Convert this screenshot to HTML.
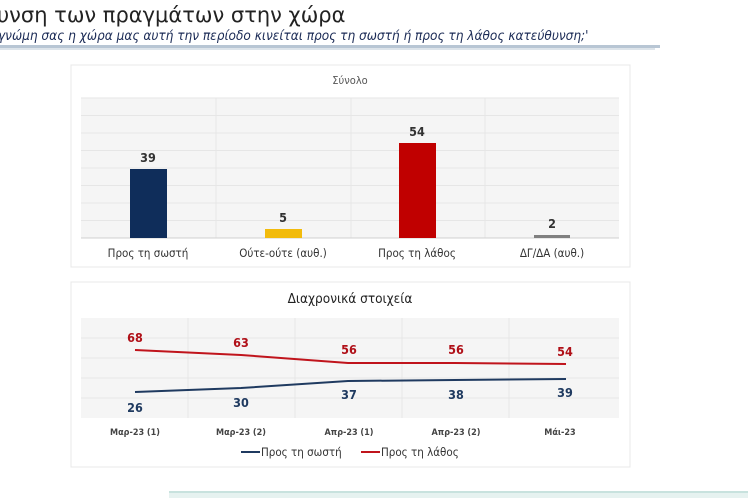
<!DOCTYPE html>
<html><head><meta charset="utf-8"><style>
body{margin:0;background:#fff;width:748px;height:498px;overflow:hidden;font-family:"Liberation Sans","DejaVu Sans",sans-serif}
</style></head><body>
<svg width="748" height="498" xmlns="http://www.w3.org/2000/svg" font-family="'DejaVu Sans Condensed','DejaVu Sans','Liberation Sans',sans-serif">
<text x="-3" y="22" font-size="21" fill="#222" font-family="'DejaVu Sans','Liberation Sans',sans-serif">υνση των πραγμάτων στην χώρα</text>
<text x="-2" y="40" font-size="13.5" font-style="italic" fill="#1a2a55">γνώμη σας η χώρα μας αυτή την περίοδο κινείται προς τη σωστή ή προς τη λάθος κατεύθυνση;'</text>
<rect x="0" y="45" width="660" height="3" fill="#b8c6d4"/>
<rect x="0" y="48" width="655" height="2" fill="#dde4ea"/>
<!-- top panel -->
<rect x="71" y="65" width="559" height="202" fill="#fff" stroke="#e8e8e8"/>
<text x="350" y="84" font-size="11" fill="#555" text-anchor="middle">Σύνολο</text>
<rect x="81" y="98" width="538" height="140" fill="#f5f5f5"/>
<g stroke="#e6e6e6" stroke-width="1">
<line x1="81" y1="98" x2="619" y2="98"/><line x1="81" y1="115.5" x2="619" y2="115.5"/><line x1="81" y1="133" x2="619" y2="133"/><line x1="81" y1="150.5" x2="619" y2="150.5"/><line x1="81" y1="168" x2="619" y2="168"/><line x1="81" y1="185.5" x2="619" y2="185.5"/><line x1="81" y1="203" x2="619" y2="203"/><line x1="81" y1="220.5" x2="619" y2="220.5"/>
<line x1="216" y1="98" x2="216" y2="238"/><line x1="351" y1="98" x2="351" y2="238"/><line x1="485" y1="98" x2="485" y2="238"/>
</g>
<line x1="81" y1="238" x2="619" y2="238" stroke="#d0d0d0"/>
<rect x="130" y="169" width="37" height="69" fill="#0f2d5a"/>
<rect x="265" y="229" width="37" height="9" fill="#f2bb0c"/>
<rect x="399" y="143" width="37" height="95" fill="#c00000"/>
<rect x="534" y="235" width="36" height="3" fill="#808080"/>
<g font-size="12.5" font-weight="bold" fill="#333" text-anchor="middle">
<text x="148" y="162">39</text><text x="283" y="222">5</text><text x="417" y="136">54</text><text x="552" y="228">2</text>
</g>
<g font-size="11.5" fill="#333" text-anchor="middle">
<text x="148" y="257">Προς τη σωστή</text><text x="283" y="257">Ούτε-ούτε (αυθ.)</text><text x="417" y="257">Προς τη λάθος</text><text x="552" y="257">ΔΓ/ΔΑ (αυθ.)</text>
</g>
<!-- bottom panel -->
<rect x="71" y="282" width="559" height="185" fill="#fff" stroke="#e8e8e8"/>
<text x="350" y="303" font-size="13.5" fill="#222" text-anchor="middle">Διαχρονικά στοιχεία</text>
<rect x="81" y="318" width="538" height="100" fill="#f5f5f5"/>
<g stroke="#e6e6e6">
<line x1="81" y1="338" x2="619" y2="338"/><line x1="81" y1="358" x2="619" y2="358"/><line x1="81" y1="378" x2="619" y2="378"/><line x1="81" y1="398" x2="619" y2="398"/>
<line x1="188" y1="318" x2="188" y2="418"/><line x1="295" y1="318" x2="295" y2="418"/><line x1="402" y1="318" x2="402" y2="418"/><line x1="509" y1="318" x2="509" y2="418"/>
</g>
<polyline points="135,350 241,355 348,363 455,363 566,364" fill="none" stroke="#c0141c" stroke-width="2"/>
<polyline points="135,392 241,388 348,381 455,380 566,379" fill="none" stroke="#1f3a60" stroke-width="2"/>
<g font-size="12.5" font-weight="bold" fill="#b01018" text-anchor="middle">
<text x="135" y="342">68</text><text x="241" y="347">63</text><text x="349" y="354">56</text><text x="456" y="354">56</text><text x="565" y="356">54</text>
</g>
<g font-size="12.5" font-weight="bold" fill="#1f3a60" text-anchor="middle">
<text x="135" y="412">26</text><text x="241" y="407">30</text><text x="349" y="399">37</text><text x="456" y="399">38</text><text x="565" y="397">39</text>
</g>
<g font-size="9" fill="#444" text-anchor="middle" font-weight="bold">
<text x="135" y="435">Μαρ-23 (1)</text><text x="241" y="435">Μαρ-23 (2)</text><text x="349" y="435">Απρ-23 (1)</text><text x="456" y="435">Απρ-23 (2)</text><text x="560" y="435">Μάι-23</text>
</g>
<line x1="241" y1="452" x2="260" y2="452" stroke="#1f3a60" stroke-width="2"/>
<text x="261" y="456" font-size="11.5" fill="#333">Προς τη σωστή</text>
<line x1="361" y1="452" x2="380" y2="452" stroke="#c0141c" stroke-width="2"/>
<text x="381" y="456" font-size="11.5" fill="#333">Προς τη λάθος</text>
<rect x="169" y="491" width="579" height="7" fill="#e6f2f0"/>
<rect x="169" y="491" width="579" height="2" fill="#c8e2de"/>
</svg>
</body></html>
